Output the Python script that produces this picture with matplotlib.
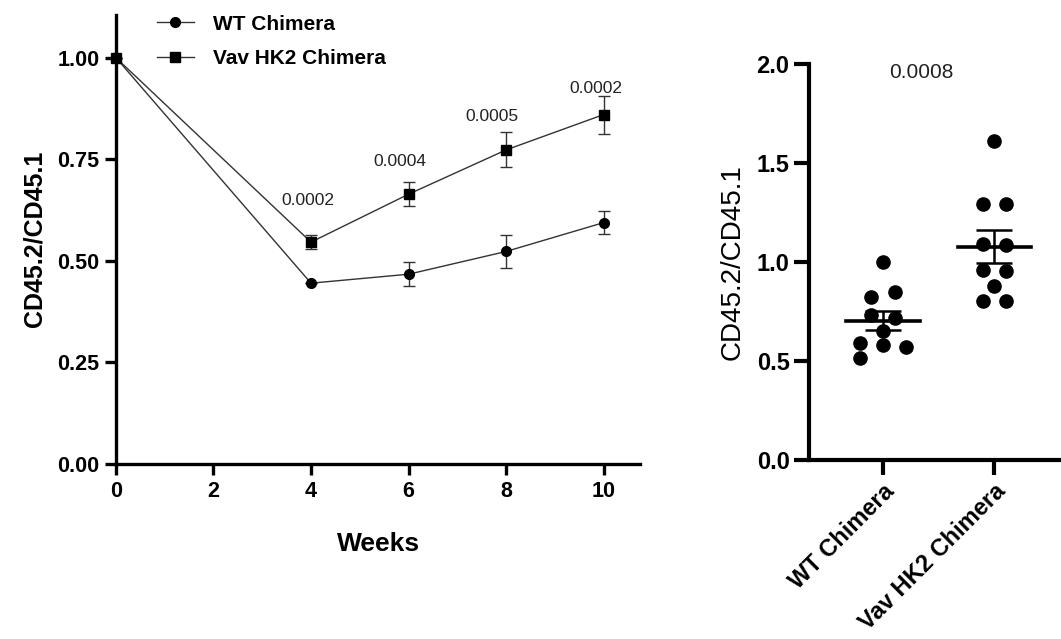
import numpy as np
import matplotlib
matplotlib.use('Agg')
import matplotlib.pyplot as plt
from matplotlib.lines import Line2D

plt.rcParams['font.family'] = ['Liberation Sans', 'DejaVu Sans']

# time course data (mean +/- SEM)
weeks = [0, 4, 6, 8, 10]
wt_mean = [1.00, 0.445, 0.467, 0.523, 0.594]
wt_err = [0.0, 0.0, 0.030, 0.040, 0.029]
hk2_mean = [1.00, 0.546, 0.664, 0.773, 0.860]
hk2_err = [0.0, 0.017, 0.030, 0.043, 0.047]
pvals_time = ['0.0002', '0.0004', '0.0005', '0.0002']
pval_x = [3.94, 5.83, 7.72, 9.84]
pval_y = [0.648, 0.745, 0.855, 0.924]

# endpoint data (individual mice)
groups = ['WT Chimera', 'Vav HK2 Chimera']
wt_points = [1.00, 0.823, 0.85, 0.732, 0.717, 0.651, 0.589, 0.579, 0.572, 0.513]
hk2_points = [1.611, 1.291, 1.291, 1.093, 1.087, 0.96, 0.957, 0.88, 0.805, 0.805]
pval_end = '0.0008'

# swarm offsets for the dots
wt_jit = [0, -0.105, 0.105, -0.105, 0.105, 0, -0.21, 0, 0.21, -0.21]
hk2_jit = [0, -0.105, 0.105, -0.105, 0.105, -0.105, 0.105, 0, -0.105, 0.105]

fig = plt.figure(figsize=(10.61, 6.39), dpi=100)

# ---- left panel ----
ax = fig.add_axes([0.1093, 0.274, 0.494, 0.703])
line_c = '#333333'
ax.errorbar(weeks, wt_mean, yerr=wt_err, color=line_c, lw=1, marker='o', ms=7,
            mfc='black', mec='black', ecolor=line_c, elinewidth=1, capsize=4,
            capthick=1, clip_on=False, zorder=3)
ax.errorbar(weeks, hk2_mean, yerr=hk2_err, color=line_c, lw=1, marker='s', ms=7,
            mfc='black', mec='black', ecolor=line_c, elinewidth=1, capsize=4,
            capthick=1, clip_on=False, zorder=3)
for t, x, y in zip(pvals_time, pval_x, pval_y):
    ax.text(x, y, t, ha='center', va='center', fontsize=12.5, color='#222222')

ax.set_xlim(0, 10.75)
ax.set_ylim(0, 1.106)
ax.set_xticks([0, 2, 4, 6, 8, 10])
ax.set_yticks([0, 0.25, 0.5, 0.75, 1.0])
ax.set_yticklabels(['0.00', '0.25', '0.50', '0.75', '1.00'])
for s in ['top', 'right']:
    ax.spines[s].set_visible(False)
for s in ['left', 'bottom']:
    ax.spines[s].set_linewidth(2.4)
ax.tick_params(width=2.4, length=8, labelsize=15.5, pad=4)
for lab in ax.get_xticklabels() + ax.get_yticklabels():
    lab.set_fontweight('bold')
ax.set_xlabel('Weeks', fontsize=19, fontweight='bold', labelpad=22)
ax.set_ylabel('CD45.2/CD45.1', fontsize=18, fontweight='bold', labelpad=8)

handles = [Line2D([], [], color=line_c, lw=1, marker='o', ms=7, mfc='black', mec='black'),
           Line2D([], [], color=line_c, lw=1, marker='s', ms=7, mfc='black', mec='black')]
ax.legend(handles, groups, loc='upper left', bbox_to_anchor=(0.140, 0.990),
          bbox_transform=fig.transFigure, frameon=False,
          prop={'size': 15, 'weight': 'bold'}, handlelength=1.78,
          handletextpad=0.91, labelspacing=0.74, borderaxespad=0)

# ---- right panel ----
ax2 = fig.add_axes([0.7625, 0.280, 0.2375, 0.620])
for i, (pts, jit) in enumerate([(wt_points, wt_jit), (hk2_points, hk2_jit)]):
    pts = np.array(pts)
    xs = i + np.array(jit)
    ax2.plot(xs, pts, 'o', color='black', ms=9.5, zorder=3)
    m = pts.mean()
    sem = pts.std(ddof=1) / np.sqrt(len(pts))
    ax2.plot([i - 0.33, i + 0.33], [m, m], color='black', lw=2.6, zorder=4)
    ax2.errorbar(i, m, yerr=sem, color='black', elinewidth=1.8, capsize=13,
                 capthick=1.8, zorder=4)
ax2.text(0.34, 1.956, pval_end, ha='center', va='center', fontsize=15,
         color='#222222')

ax2.set_xlim(-0.667, 1.6)
ax2.set_ylim(0, 2.0)
ax2.set_xticks([0, 1])
ax2.set_xticklabels(groups, rotation=45, ha='right', rotation_mode='anchor',
                    fontsize=17.5, fontweight='bold')
ax2.set_yticks([0, 0.5, 1.0, 1.5, 2.0])
ax2.set_yticklabels(['0.0', '0.5', '1.0', '1.5', '2.0'])
for s in ['top', 'right']:
    ax2.spines[s].set_visible(False)
for s in ['left', 'bottom']:
    ax2.spines[s].set_linewidth(3)
ax2.tick_params(width=3, length=11, labelsize=17, pad=3)
for lab in ax2.get_yticklabels():
    lab.set_fontweight('bold')
ax2.set_ylabel('CD45.2/CD45.1', fontsize=20, labelpad=8)

fig.savefig('out.png', dpi=100)
